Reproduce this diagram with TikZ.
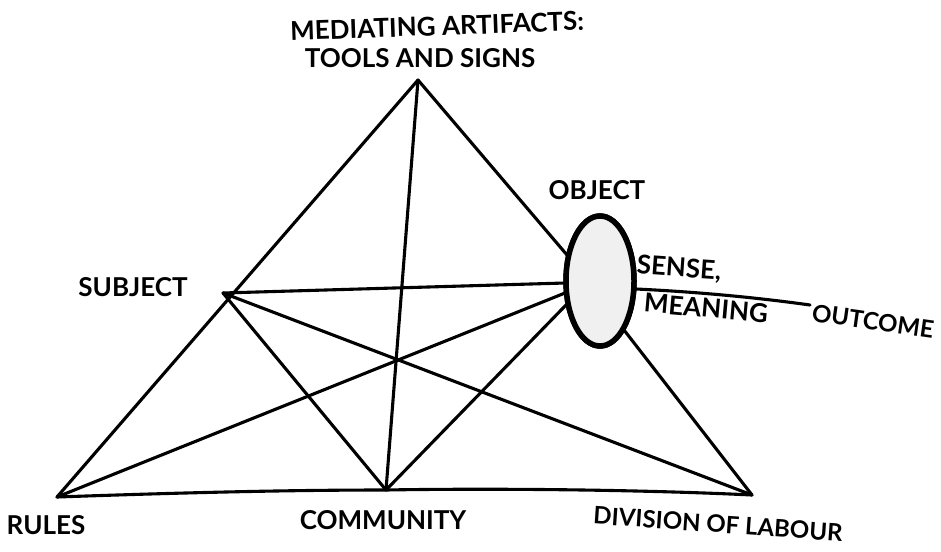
\documentclass[tikz,border=0pt]{standalone}
\usepackage{fontspec}
\setmainfont{Lato}
\usetikzlibrary{shapes.geometric}
\begin{document}
\begin{tikzpicture}[x=1pt,y=-1pt,
  edge/.style={line width=3.1pt,line cap=round,line join=round},
  lab/.style={font=\fontsize{26}{27}\selectfont\bfseries,inner sep=0pt,align=center},
  smalllab/.style={lab,font=\fontsize{24}{25}\selectfont\bfseries},
  objshape/.style={ellipse,draw,line width=5.5pt,fill=gray!12,minimum width=68pt,minimum height=130pt,inner sep=0pt}]
\useasboundingbox (0,0) rectangle (941,551);
% vertices
\coordinate (apex) at (418,80);
\coordinate (subj) at (223,293);
\coordinate (rules) at (57,497);
\coordinate (comm) at (386,490);
\coordinate (div) at (752,495);
\node[objshape] (obj) at (600,281) {};
\coordinate (oA) at (567,255);
\coordinate (oS) at (565,283);
\coordinate (oR) at (565,293);
\coordinate (oC) at (566,305);
\coordinate (oD) at (624,330);
\coordinate (oR2) at (636,289);
\coordinate (outc) at (810,305);
% edges
\draw[edge] (apex) -- (rules);
\draw[edge] (apex) -- (oA);
\draw[edge] (apex) -- (comm);
\draw[edge] (subj) -- (oS);
\draw[edge] (subj) -- (comm);
\draw[edge] (subj) -- (div);
\draw[edge] (rules) -- (oR);
\draw[edge] (comm) -- (oC);
\draw[edge] (oD) -- (div);
\draw[edge] (rules) .. controls (200,492) and (300,490) .. (comm) .. controls (500,488) and (650,490) .. (div);
\draw[edge] (oR2) .. controls (700,292) and (760,298) .. (outc);
\node[objshape] at (obj) {};
% labels
\node[lab,rotate=2] (tmed) at (437,26) {MEDIATING ARTIFACTS:};
\node[lab] (ttools) at (420,58) {TOOLS AND SIGNS};
\node[lab] (tsubj) at (133,287) {SUBJECT};
\node[lab] (tobj) at (597,190) {OBJECT};
\node[lab,rotate=-4] (tsense) at (679,269) {SENSE,};
\node[lab,rotate=-5] (tmean) at (706,308) {MEANING};
\node[smalllab,rotate=-8] (tout) at (873,321) {OUTCOME};
\node[lab] (trules) at (46,525) {RULES};
\node[lab] (tcomm) at (383,520) {COMMUNITY};
\node[smalllab,rotate=-4] (tdiv) at (718,524) {DIVISION OF LABOUR};
\end{tikzpicture}
\end{document}
